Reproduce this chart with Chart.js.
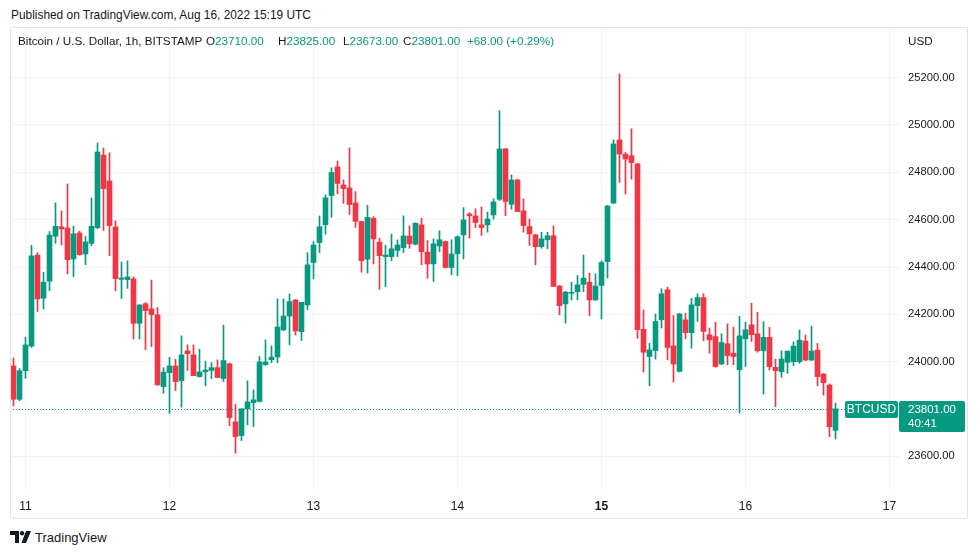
<!DOCTYPE html>
<html><head><meta charset="utf-8">
<script src="https://cdn.jsdelivr.net/npm/chart.js@4.4.0/dist/chart.umd.min.js"></script>
<style>
html,body{margin:0;padding:0;background:#fff;}
body{width:979px;height:555px;position:relative;overflow:hidden;font-family:"Liberation Sans",Arial,sans-serif;color:#131722;}
.t{position:absolute;white-space:nowrap;font-size:11.7px;line-height:14px;}
.g{color:#089981;}
#frame{position:absolute;left:10px;top:27px;width:958px;height:492px;box-sizing:border-box;border:1px solid #e0e3eb;border-radius:2px;pointer-events:none;}
#cv{position:absolute;left:10px;top:27px;}
</style>
</head><body>
<div class="t" id="pub" style="left:11px;top:8px;font-size:11.9px;">Published on TradingView.com, Aug 16, 2022 15:19 UTC</div>
<canvas id="cv" width="958" height="492"></canvas>
<div id="frame"></div>
<div class="t" style="left:18px;top:34px;">Bitcoin / U.S. Dollar, 1h, BITSTAMP</div>
<div class="t" style="left:206px;top:34px;">O<span class="g">23710.00</span></div>
<div class="t" style="left:278px;top:34px;">H<span class="g">23825.00</span></div>
<div class="t" style="left:343px;top:34px;">L<span class="g">23673.00</span></div>
<div class="t" style="left:403px;top:34px;">C<span class="g">23801.00</span></div>
<div class="t g" style="left:467px;top:34px;">+68.00 (+0.29%)</div>
<div class="t" style="left:908px;top:34px;">USD</div>
<svg style="position:absolute;left:10px;top:531px" width="22" height="12" viewBox="0 0 22 12">
<path d="M0 0h9v12h-4v-8h-5z" fill="#131722"/>
<circle cx="12" cy="2.2" r="2.2" fill="#131722"/>
<path d="M16 0h5l-5 12h-4.5z" fill="#131722"/>
</svg>
<div class="t" style="left:35px;top:530px;font-size:13px;line-height:15px;">TradingView</div>
<script>
// Hour offsets from Aug 11 00:00 UTC; first candle is Aug 10 22:00
const firstHour = -2;
const dayTickHours = [0, 24, 48, 72, 96, 120, 144];
const dayTickLabels = ['11', '12', '13', '14', '15', '16', '17'];
const priceTicks = [23600, 23800, 24000, 24200, 24400, 24600, 24800, 25000, 25200];
const priceTickLabels = ['23600.00','23800.00','24000.00','24200.00','24400.00','24600.00','24800.00','25000.00','25200.00'];

const opens = [23982,23841,23962,24066,24450,24268,24340,24530,24570,24565,
24434,24544,24455,24500,24566,24873,24764,24569,24348,24347,
24350,24162,24245,24223,24198,23895,23954,23982,23920,24046,
24029,23937,23958,23963,23975,23929,23991,23746,23688,23801,
23827,23832,23987,24008,24020,24134,24193,24261,24127,24240,
24419,24503,24579,24702,24823,24747,24734,24671,24592,24433,
24606,24505,24444,24444,24470,24482,24531,24496,24578,24463,
24413,24489,24508,24398,24456,24536,24624,24616,24578,24578,
24620,24686,24899,24665,24768,24637,24571,24536,24486,24515,
24532,24320,24244,24289,24296,24327,24336,24261,24322,24423,
24670,24937,24877,24870,24836,24137,24022,24047,24177,24304,
24067,23959,24177,24123,24237,24271,24114,24106,23991,24076,
24036,23966,24097,24156,24118,24046,24103,23976,23958,23997,
24000,24000,24087,24007,24049,23948,23901,23710];
const highs = [24016,23971,24103,24492,24461,24378,24550,24671,24637,24751,
24572,24552,24530,24692,24924,24903,24883,24595,24421,24426,
24359,24240,24250,24345,24229,23975,24019,24010,24109,24071,
24071,24053,24001,23996,24008,24155,23995,23820,23801,23919,
23881,24022,24092,24067,24265,24265,24286,24263,24251,24461,
24508,24616,24705,24819,24848,24768,24903,24719,24594,24661,
24613,24522,24492,24539,24515,24616,24574,24587,24606,24512,
24519,24553,24510,24515,24532,24651,24630,24646,24653,24632,
24688,25060,24901,24789,24772,24688,24603,24538,24547,24547,
24574,24322,24297,24336,24364,24451,24374,24371,24426,24660,
24937,25216,24884,24984,24838,24219,24078,24202,24308,24315,
24195,24204,24205,24268,24287,24287,24142,24167,24118,24160,
24146,24191,24167,24247,24209,24169,24145,24011,24046,24045,
24084,24134,24113,24151,24077,23950,23906,23825];
const lows = [23813,23835,23930,24061,24212,24222,24300,24500,24493,24371,
24359,24450,24410,24490,24562,24555,24448,24300,24267,24310,
24096,24096,24051,24064,23900,23867,23782,23878,23808,23963,
23941,23935,23898,23929,23933,23916,23730,23613,23667,23733,
23726,23830,23985,23996,23996,24132,24072,24113,24089,24220,
24350,24461,24539,24610,24709,24669,24622,24567,24378,24374,
24413,24306,24317,24427,24444,24461,24479,24494,24409,24353,
24339,24465,24396,24367,24364,24434,24522,24567,24533,24547,
24603,24681,24617,24644,24634,24547,24491,24409,24479,24477,
24318,24198,24163,24261,24261,24296,24195,24259,24181,24353,
24668,24757,24708,24771,24099,23956,23899,24011,24142,24008,
23914,23957,24097,24057,24170,24088,24036,23976,23987,23987,
23987,23783,23980,24085,24040,23863,23965,23810,23934,23951,
23983,23993,24005,24005,23899,23859,23683,23673];
const closes = [23841,23962,24071,24447,24265,24336,24535,24572,24561,24431,
24540,24452,24506,24572,24886,24731,24575,24351,24354,24358,
24162,24240,24216,24199,23902,23956,23982,23916,24029,24034,
23941,23957,23965,23975,23933,24005,23764,23684,23801,23830,
23839,23999,23999,24020,24147,24193,24254,24130,24251,24409,
24493,24570,24692,24799,24753,24731,24664,24593,24427,24610,
24519,24448,24451,24477,24493,24531,24498,24585,24465,24413,
24498,24515,24398,24455,24528,24599,24616,24588,24567,24603,
24675,24899,24677,24768,24634,24575,24540,24486,24519,24532,
24318,24237,24294,24293,24325,24353,24261,24320,24419,24658,
24920,24877,24856,24841,24135,24040,24050,24170,24287,24060,
23990,24202,24123,24240,24271,24128,24092,23980,24081,24026,
24022,24109,24135,24114,24046,24103,23979,23962,24011,24045,
24066,24091,24007,24045,23937,23911,23725,23801];

const UP = '#089981', DOWN = '#f23645';
const FONT = '"Liberation Sans", Arial, sans-serif';
const colorOf = ctx => closes[ctx.dataIndex] >= opens[ctx.dataIndex] ? UP : DOWN;

const wickData = opens.map((o, i) => ({x: firstHour + i, y: [lows[i], highs[i]]}));
const bodyData = opens.map((o, i) => ({x: firstHour + i, y: [opens[i], closes[i]]}));

const lastPrice = {
  id: 'lastPrice',
  afterDatasetsDraw(chart) {
    const {ctx, chartArea, scales} = chart;
    const last = closes[closes.length - 1];
    const y = Math.round(scales.y.getPixelForValue(last)) + 0.5;
    ctx.save();
    ctx.strokeStyle = UP;
    ctx.lineWidth = 1;
    ctx.setLineDash([1, 2]);
    ctx.beginPath();
    ctx.moveTo(chartArea.left, y);
    ctx.lineTo(chartArea.right - 55, y);
    ctx.stroke();
    ctx.setLineDash([]);
    ctx.fillStyle = UP;
    ctx.beginPath();
    ctx.roundRect(chartArea.right - 55, y - 8.5, 53, 17, 2);
    ctx.fill();
    ctx.fillStyle = '#fff';
    ctx.font = '12px ' + FONT;
    ctx.textAlign = 'center';
    ctx.textBaseline = 'middle';
    ctx.fillText('BTCUSD', chartArea.right - 28.5, y + 0.5);
    ctx.fillStyle = UP;
    ctx.beginPath();
    ctx.roundRect(chartArea.right - 1, y - 8.5, 66, 31, 2);
    ctx.fill();
    ctx.fillStyle = '#fff';
    ctx.textAlign = 'left';
    ctx.font = '11.5px ' + FONT;
    ctx.fillText(last.toFixed(2), chartArea.right + 8, y + 0.5);
    ctx.fillText('40:41', chartArea.right + 8, y + 14.5);
    ctx.restore();
  }
};

new Chart(document.getElementById('cv'), {
  type: 'bar',
  data: {
    datasets: [
      {data: wickData, backgroundColor: colorOf, barThickness: 1, grouped: false, order: 2, borderWidth: 0},
      {data: bodyData, backgroundColor: colorOf, barThickness: 5, minBarLength: 1, grouped: false, order: 1, borderWidth: 0}
    ]
  },
  options: {
    responsive: false,
    animation: false,
    devicePixelRatio: 1,
    layout: {padding: 0},
    plugins: {legend: {display: false}, tooltip: {enabled: false}},
    scales: {
      x: {
        type: 'linear',
        offset: false,
        min: -15.5 / 6,
        max: -15.5 / 6 + 890 / 6,
        grid: {color: '#f0f3fa', drawTicks: false, offset: false},
        border: {display: false},
        afterBuildTicks: s => { s.ticks = dayTickHours.map(v => ({value: v})); },
        afterFit: s => { s.height = 29; s.paddingLeft = 0; s.paddingRight = 0; },
        ticks: {
          padding: 9,
          color: '#131722',
          maxRotation: 0,
          autoSkip: false,
          font: ctx => ({family: FONT, size: 12, weight: ctx.index === 4 ? 'bold' : 'normal'}),
          callback: (v, i) => dayTickLabels[i]
        }
      },
      y: {
        position: 'right',
        min: 23458,
        max: 25414,
        grid: {color: '#f0f3fa', drawTicks: false},
        border: {display: false},
        afterBuildTicks: s => { s.ticks = priceTicks.map(v => ({value: v})); },
        afterFit: s => { s.width = 68; s.paddingTop = 0; s.paddingBottom = 0; },
        ticks: {
          padding: 8,
          color: '#131722',
          font: {family: FONT, size: 11.2},
          callback: (v, i) => priceTickLabels[i]
        }
      }
    }
  },
  plugins: [lastPrice]
});
</script>
</body></html>
